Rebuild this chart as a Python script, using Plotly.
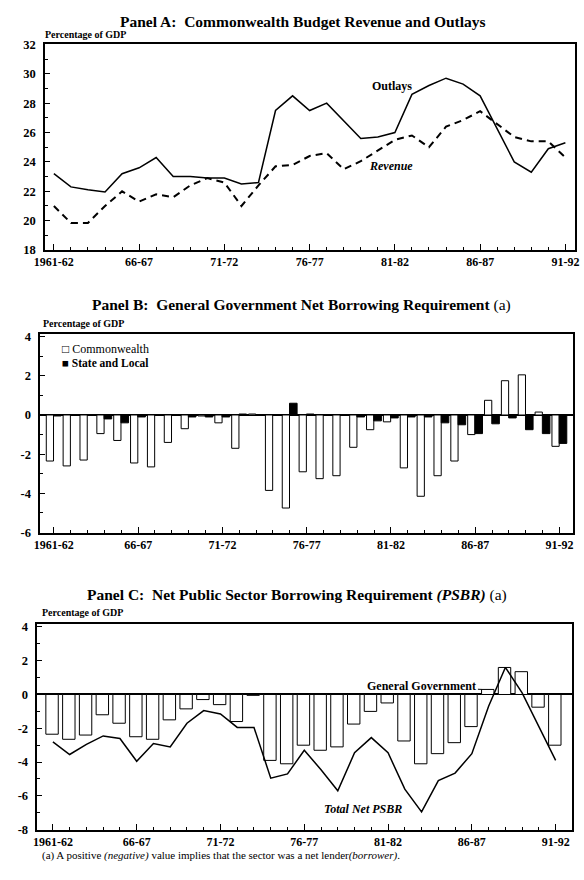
import plotly.graph_objects as go

# ---------------- data ----------------
years = ["1961-62", "1962-63", "1963-64", "1964-65", "1965-66", "1966-67", "1967-68",
         "1968-69", "1969-70", "1970-71", "1971-72", "1972-73", "1973-74", "1974-75",
         "1975-76", "1976-77", "1977-78", "1978-79", "1979-80", "1980-81", "1981-82",
         "1982-83", "1983-84", "1984-85", "1985-86", "1986-87", "1987-88", "1988-89",
         "1989-90", "1990-91", "1991-92"]
tick_years = ["1961-62", "1966-67", "1971-72", "1976-77", "1981-82", "1986-87", "1991-92"]
tick_labels = ["1961-62", "66-67", "71-72", "76-77", "81-82", "86-87", "91-92"]

# Panel A (% of GDP)
outlays = [23.2, 22.3, 22.1, 21.95, 23.2, 23.6, 24.3, 23.0, 23.0, 22.9, 22.9, 22.5, 22.6,
           27.5, 28.5, 27.5, 28.0, 26.8, 25.6, 25.7, 26.0, 28.6, 29.2, 29.7, 29.3, 28.5,
           26.2, 24.0, 23.3, 24.9, 25.3]
revenue = [21.0, 19.85, 19.85, 21.0, 22.0, 21.3, 21.8, 21.6, 22.4, 22.9, 22.6, 21.0, 22.4,
           23.7, 23.8, 24.4, 24.6, 23.5, 24.05, 24.8, 25.5, 25.8, 25.0, 26.4, 26.85, 27.45,
           26.6, 25.7, 25.4, 25.4, 24.3]

# Panel B (% of GDP)
commonwealth = [-2.35, -2.6, -2.3, -0.95, -1.3, -2.45, -2.65, -1.4, -0.7, -0.05, -0.4, -1.7,
                0.05, -3.85, -4.75, -2.9, -3.25, -3.1, -1.65, -0.75, -0.35, -2.7, -4.15,
                -3.1, -2.35, -1.0, 0.75, 1.75, 2.05, 0.15, -1.6]
state_local = [-0.05, 0.0, 0.0, -0.2, -0.4, -0.1, 0.0, 0.0, -0.1, -0.1, -0.1, 0.05, 0.0,
               0.0, 0.6, 0.05, 0.0, 0.0, -0.1, -0.3, -0.15, -0.1, -0.1, -0.4, -0.5, -0.95,
               -0.45, -0.15, -0.75, -0.95, -1.45]

# Panel C (% of GDP)
general_government = [-2.35, -2.65, -2.4, -1.2, -1.7, -2.5, -2.65, -1.5, -0.85, -0.3, -0.6,
                      -1.6, -0.05, -3.9, -4.1, -3.0, -3.3, -3.1, -1.75, -1.0, -0.5, -2.75,
                      -4.1, -3.5, -2.85, -1.9, 0.3, 1.6, 1.35, -0.75, -3.0]
total_net_psbr = [-2.8, -3.55, -2.95, -2.45, -2.6, -3.95, -2.9, -3.1, -1.7, -0.95, -1.15,
                  -1.95, -1.95, -4.95, -4.7, -3.3, -4.45, -5.7, -3.45, -2.55, -3.45, -5.6,
                  -6.95, -5.1, -4.65, -3.5, -0.7, 1.6, 0.1, -1.9, -3.9]

x = list(range(len(years)))
tick_pos = [years.index(t) for t in tick_years]

# ---------------- figure ----------------
W, H = 584, 880
FONT = "Liberation Serif"
BLK = "black"

fig = go.Figure()

# Panel A
fig.add_trace(go.Scatter(x=x, y=outlays, mode="lines", name="Outlays",
                         line=dict(color=BLK, width=1.5), xaxis="x", yaxis="y"))
fig.add_trace(go.Scatter(x=x, y=revenue, mode="lines", name="Revenue",
                         line=dict(color=BLK, width=2, dash="7px,5px"), xaxis="x", yaxis="y"))

# Panel B
fig.add_trace(go.Bar(x=x, y=commonwealth, name="Commonwealth", width=0.43, offset=-0.45,
                     marker=dict(color="white", line=dict(color=BLK, width=1)),
                     xaxis="x2", yaxis="y2"))
fig.add_trace(go.Bar(x=x, y=state_local, name="State and Local", width=0.45, offset=-0.02,
                     marker=dict(color=BLK, line=dict(color=BLK, width=1)),
                     xaxis="x2", yaxis="y2"))

# Panel C
fig.add_trace(go.Bar(x=x, y=general_government, name="General Government", width=0.74,
                     offset=-0.42,
                     marker=dict(color="white", line=dict(color=BLK, width=1)),
                     xaxis="x3", yaxis="y3"))
fig.add_trace(go.Scatter(x=x, y=total_net_psbr, mode="lines", name="Total Net PSBR",
                         line=dict(color=BLK, width=1.5), xaxis="x3", yaxis="y3"))

tickfont = dict(family=FONT, size=12.5, color=BLK, weight="bold")
xtickfont = dict(family=FONT, size=12, color=BLK, weight="bold")


def xax(px_left, px_right, first_tick_px, px_per_year, anchor):
    r0 = (px_left - first_tick_px) / px_per_year
    r1 = (px_right - first_tick_px) / px_per_year
    return dict(domain=[px_left / W, px_right / W], range=[r0, r1], anchor=anchor,
                tickmode="array", tickvals=tick_pos, ticktext=tick_labels,
                ticks="inside", ticklen=6, tickwidth=1, tickcolor=BLK,
                minor=dict(ticks="inside", ticklen=3, tickwidth=1, tickcolor=BLK,
                           dtick=1, tick0=0, showgrid=False),
                showline=True, linecolor=BLK, linewidth=1.5, mirror=True,
                showgrid=False, zeroline=False, tickfont=xtickfont, ticklabelstandoff=0)


def yax(px_top, px_bottom, ymin, ymax, vals, anchor, zero):
    return dict(domain=[1 - px_bottom / H, 1 - px_top / H], range=[ymin, ymax], anchor=anchor,
                tickmode="array", tickvals=vals, ticktext=[str(v) for v in vals],
                ticks="inside", ticklen=5, tickwidth=1, tickcolor=BLK,
                minor=dict(ticks="inside", ticklen=3, tickwidth=1, tickcolor=BLK,
                           dtick=1, tick0=0, showgrid=False),
                showline=True, linecolor=BLK, linewidth=1.5, mirror=True,
                showgrid=False, zeroline=zero, zerolinecolor=BLK, zerolinewidth=1.5,
                tickfont=tickfont, ticklabelstandoff=5)


fig.update_layout(
    width=W, height=H, margin=dict(l=0, r=0, t=0, b=0),
    paper_bgcolor="white", plot_bgcolor="white", showlegend=False, barmode="overlay",
    font=dict(family=FONT, color=BLK),
    xaxis=xax(35, 579, 44, 17.5, "y"),
    yaxis=yax(38, 247, 18, 32, [18, 20, 22, 24, 26, 28, 30, 32], "x", False),
    xaxis2=xax(30, 577, 44, 17.3, "y2"),
    yaxis2=yax(332, 534, -6, 4.15, [-6, -4, -2, 0, 2, 4], "x2", True),
    xaxis3=xax(27, 576, 43, 17.2, "y3"),
    yaxis3=yax(627, 836, -8, 4.17, [-8, -6, -4, -2, 0, 2, 4], "x3", True),
)


def paper_text(text, px_x, px_y, size, xanchor="left"):
    return dict(text=text, x=px_x / W, y=1 - px_y / H, xref="paper", yref="paper",
                xanchor=xanchor, yanchor="middle", showarrow=False,
                font=dict(family=FONT, size=size, color=BLK))


ann = [
    paper_text("<b>Panel A:  Commonwealth Budget Revenue and Outlays</b>", 300, 15, 15.5, "center"),
    paper_text("<b>Percentage of GDP</b>", 33, 28, 10),
    paper_text("<b>Panel B:  General Government Net Borrowing Requirement</b> (a)", 298, 303, 15.5, "center"),
    paper_text("<b>Percentage of GDP</b>", 31, 322, 10),
    paper_text("<b>Panel C:  Net Public Sector Borrowing Requirement <i>(PSBR)</i></b> (a)", 294, 598, 15.5, "center"),
    paper_text("<b>Percentage of GDP</b>", 30, 615, 10),
    paper_text("(a) A positive <i>(negative)</i> value implies that the sector was a net lender<i>(borrower)</i>.",
               30, 862, 11),
    paper_text("\u25a1 Commonwealth", 50, 348, 12),
    paper_text("<b>\u25a0 State and Local</b>", 50, 362, 11.5),
    # Panel A line labels
    dict(text="<b>Outlays</b>", x=19.85, y=29.2, xref="x", yref="y", showarrow=False,
         font=dict(family=FONT, size=12, color=BLK)),
    dict(text="<b><i>Revenue</i></b>", x=19.8, y=23.7, xref="x", yref="y", showarrow=False,
         font=dict(family=FONT, size=12, color=BLK)),
    # Panel C labels
    dict(text="<b><i>Total Net PSBR</i></b>", x=18.5, y=-6.8, xref="x3", yref="y3",
         showarrow=False, font=dict(family=FONT, size=12, color=BLK)),
    dict(text="<b>General Government</b>", x=years.index("1987-88") - 0.4,
         y=general_government[years.index("1987-88")], xref="x3", yref="y3",
         showarrow=True, arrowhead=0, arrowwidth=1, arrowcolor=BLK,
         ax=-60, ay=-3, xanchor="center", yanchor="middle",
         font=dict(family=FONT, size=12, color=BLK)),
]
fig.update_layout(annotations=ann)

fig.write_html("out.html", config={"displayModeBar": False},
               post_script="document.body.style.margin='0';")
